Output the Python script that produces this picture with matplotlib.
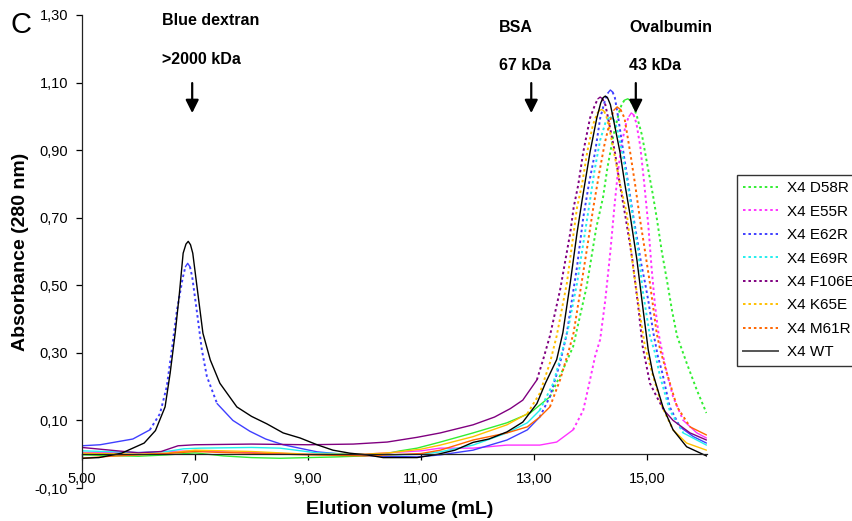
import numpy as np
import matplotlib
matplotlib.use("Agg")
import matplotlib.pyplot as plt
from matplotlib.lines import Line2D

plt.rcParams['font.family'] = ['Liberation Sans', 'DejaVu Sans']

# ---------------- data ----------------
series_names = ["X4 D58R", "X4 E55R", "X4 E62R", "X4 E69R",
                "X4 F106E", "X4 K65E", "X4 M61R", "X4 WT"]
series_colors = ["#33ee33", "#ff33ff", "#3f3fff", "#22eeee",
                 "#800080", "#ffc000", "#ff6600", "#000000"]

d58r_x = [5.0, 5.5, 6.0, 6.5, 7.0, 7.5, 8.0, 8.5, 9.0, 9.5, 10.0, 10.33, 10.63, 10.93,
          11.34, 11.92, 12.52, 12.93, 13.28, 13.51, 13.69, 13.93, 14.1, 14.22, 14.3, 14.4,
          14.5, 14.55, 14.6, 14.66, 14.71, 14.76, 14.82, 14.91, 15.0, 15.1, 15.17, 15.26,
          15.36, 15.44, 15.53, 15.7, 15.88, 16.05]
d58r_y = [-0.002, -0.004, -0.006, -0.002, 0.004, -0.005, -0.01, -0.012, -0.01, -0.008,
          -0.005, 0.0, 0.01, 0.018, 0.036, 0.063, 0.093, 0.122, 0.17, 0.25, 0.318, 0.496,
          0.67, 0.76, 0.85, 0.94, 1.01, 1.035, 1.048, 1.052, 1.045, 1.03, 1.0, 0.944,
          0.86, 0.77, 0.70, 0.60, 0.506, 0.426, 0.35, 0.27, 0.19, 0.122]

e55r_x = [5.0, 6.0, 6.5, 7.0, 8.0, 9.0, 10.0, 11.0, 11.34, 11.92, 12.52, 13.1, 13.4,
          13.69, 13.87, 13.99, 14.08, 14.17, 14.26, 14.35, 14.42, 14.48, 14.55, 14.63,
          14.68, 14.72, 14.76, 14.81, 14.88, 14.95, 15.02, 15.08, 15.14, 15.2, 15.27,
          15.35, 15.46, 15.64, 15.88, 16.05]
e55r_y = [0.005, 0.005, 0.008, 0.01, 0.005, 0.0, 0.0, 0.01, 0.018, 0.018, 0.027, 0.027,
          0.036, 0.072, 0.13, 0.22, 0.29, 0.34, 0.456, 0.60, 0.73, 0.83, 0.92, 0.98, 1.0,
          1.01, 1.005, 0.98, 0.91, 0.80, 0.68, 0.55, 0.44, 0.36, 0.30, 0.24, 0.17, 0.10,
          0.063, 0.048]

e62r_x = [5.0, 5.32, 5.9, 6.2, 6.38, 6.5, 6.59, 6.68, 6.78, 6.83, 6.87, 6.91, 6.95, 7.03,
          7.12, 7.21, 7.39, 7.67, 7.97, 8.25, 8.56, 9.16, 9.74, 10.33, 10.93, 11.34, 11.92,
          12.52, 12.88, 13.1, 13.28, 13.46, 13.58, 13.76, 13.87, 13.97, 14.08, 14.17,
          14.26, 14.31, 14.35, 14.39, 14.43, 14.49, 14.58, 14.67, 14.74, 14.82, 14.9,
          14.96, 15.02, 15.11, 15.19, 15.27, 15.4, 15.58, 15.82, 16.05]
e62r_y = [0.025, 0.028, 0.045, 0.072, 0.12, 0.2, 0.31, 0.426, 0.52, 0.555, 0.565, 0.555,
          0.525, 0.426, 0.31, 0.23, 0.15, 0.10, 0.068, 0.045, 0.028, 0.007, -0.002,
          -0.006, -0.008, -0.002, 0.012, 0.042, 0.072, 0.11, 0.17, 0.27, 0.358, 0.555,
          0.70, 0.80, 0.894, 0.995, 1.05, 1.07, 1.078, 1.072, 1.055, 0.995, 0.894, 0.796,
          0.72, 0.64, 0.56, 0.51, 0.456, 0.36, 0.29, 0.24, 0.14, 0.081, 0.052, 0.033]

e69r_x = [5.0, 6.0, 6.5, 6.8, 7.1, 8.0, 8.5, 9.16, 10.33, 11.0, 11.34, 11.92, 12.52, 12.88,
          13.1, 13.34, 13.49, 13.6, 13.76, 13.9, 13.99, 14.07, 14.17, 14.26, 14.31, 14.36,
          14.41, 14.47, 14.56, 14.66, 14.75, 14.84, 14.93, 15.05, 15.14, 15.23, 15.4,
          15.64, 16.05]
e69r_y = [0.01, 0.005, 0.008, 0.016, 0.018, 0.02, 0.018, 0.004, -0.003, 0.0, 0.007, 0.027,
          0.063, 0.093, 0.13, 0.21, 0.30, 0.37, 0.506, 0.655, 0.752, 0.84, 0.93, 0.98,
          0.994, 0.998, 0.99, 0.964, 0.894, 0.796, 0.70, 0.604, 0.476, 0.35, 0.30, 0.23,
          0.13, 0.063, 0.027]

f106e_x = [5.0, 5.5, 6.0, 6.4, 6.7, 7.0, 8.0, 9.0, 9.8, 10.4, 10.93, 11.34, 11.92, 12.3,
           12.58, 12.8, 13.05, 13.16, 13.28, 13.46, 13.64, 13.7, 13.78, 13.87, 13.99, 14.08,
           14.13, 14.17, 14.21, 14.26, 14.31, 14.43, 14.52, 14.62, 14.74, 14.85, 14.92,
           15.05, 15.17, 15.3, 15.46, 15.76, 16.05]
f106e_y = [0.02, 0.012, 0.004, 0.008, 0.025, 0.028, 0.03, 0.028, 0.03, 0.036, 0.05, 0.063,
           0.087, 0.11, 0.135, 0.16, 0.22, 0.28, 0.35, 0.486, 0.655, 0.73, 0.796, 0.894,
           0.995, 1.035, 1.052, 1.057, 1.052, 1.035, 0.995, 0.894, 0.796, 0.70, 0.575,
           0.427, 0.32, 0.21, 0.17, 0.13, 0.10, 0.063, 0.042]

k65e_x = [5.0, 6.0, 6.5, 7.0, 7.5, 8.0, 9.0, 10.0, 10.5, 11.0, 11.34, 11.92, 12.52, 12.88,
          13.1, 13.28, 13.4, 13.58, 13.7, 13.76, 13.85, 13.94, 14.04, 14.12, 14.16, 14.2,
          14.24, 14.28, 14.35, 14.43, 14.52, 14.64, 14.75, 14.88, 14.96, 15.09, 15.27,
          15.46, 15.7, 16.05]
k65e_y = [0.003, 0.0, 0.003, 0.012, 0.01, 0.008, 0.0, 0.0, 0.005, 0.015, 0.027, 0.052,
          0.087, 0.12, 0.18, 0.27, 0.35, 0.506, 0.655, 0.73, 0.80, 0.894, 0.974, 1.01,
          1.018, 1.02, 1.015, 1.0, 0.95, 0.88, 0.80, 0.713, 0.555, 0.407, 0.32, 0.24, 0.14,
          0.072, 0.033, 0.012]

m61r_x = [5.0, 5.5, 6.0, 6.5, 7.0, 7.5, 8.0, 9.0, 10.0, 11.0, 11.34, 11.92, 12.52, 12.88,
          13.1, 13.28, 13.46, 13.62, 13.7, 13.84, 13.96, 14.05, 14.15, 14.25, 14.35, 14.41,
          14.47, 14.53, 14.6, 14.7, 14.79, 14.87, 14.96, 15.05, 15.17, 15.23, 15.35, 15.53,
          15.76, 16.05]
m61r_y = [-0.012, -0.006, -0.002, 0.002, 0.008, 0.005, 0.003, -0.002, -0.005, 0.002, 0.012,
          0.042, 0.063, 0.081, 0.11, 0.14, 0.22, 0.31, 0.36, 0.506, 0.634, 0.732, 0.83,
          0.92, 0.99, 1.018, 1.028, 1.02, 0.995, 0.894, 0.796, 0.70, 0.604, 0.506, 0.358,
          0.31, 0.24, 0.14, 0.081, 0.057]

wt_x = [5.0, 5.3, 5.7, 6.1, 6.3, 6.47, 6.56, 6.65, 6.72, 6.79, 6.84, 6.88, 6.92, 6.96,
        7.05, 7.14, 7.27, 7.44, 7.74, 8.0, 8.27, 8.56, 8.86, 9.16, 9.44, 9.74, 10.04,
        10.33, 10.93, 11.3, 11.6, 11.92, 12.2, 12.52, 12.8, 13.05, 13.2, 13.4, 13.51,
        13.64, 13.76, 13.85, 13.99, 14.11, 14.18, 14.22, 14.26, 14.3, 14.35, 14.4, 14.52,
        14.61, 14.7, 14.82, 14.93, 15.02, 15.1, 15.28, 15.46, 15.7, 16.05]
wt_y = [-0.012, -0.01, 0.003, 0.033, 0.07, 0.14, 0.24, 0.36, 0.47, 0.595, 0.622, 0.63,
        0.62, 0.595, 0.476, 0.358, 0.279, 0.21, 0.14, 0.112, 0.09, 0.063, 0.048, 0.028,
        0.012, 0.003, -0.002, -0.01, -0.01, 0.0, 0.012, 0.035, 0.045, 0.066, 0.095, 0.15,
        0.21, 0.28, 0.36, 0.507, 0.655, 0.752, 0.894, 0.995, 1.04, 1.055, 1.06, 1.055,
        1.035, 0.995, 0.894, 0.796, 0.707, 0.575, 0.427, 0.309, 0.24, 0.14, 0.072, 0.022,
        -0.005]

series_x = [d58r_x, e55r_x, e62r_x, e69r_x, f106e_x, k65e_x, m61r_x, wt_x]
series_y = [d58r_y, e55r_y, e62r_y, e69r_y, f106e_y, k65e_y, m61r_y, wt_y]
series_dotted = [True, True, True, True, True, True, True, False]

x_ticks = [5, 7, 9, 11, 13, 15]
x_tick_labels = ["5,00", "7,00", "9,00", "11,00", "13,00", "15,00"]
y_ticks = [-0.10, 0.10, 0.30, 0.50, 0.70, 0.90, 1.10, 1.30]
y_tick_labels = ["-0,10", "0,10", "0,30", "0,50", "0,70", "0,90", "1,10", "1,30"]

standards = ["Blue dextran", "BSA", "Ovalbumin"]
standard_sizes = [">2000 kDa", "67 kDa", "43 kDa"]
standard_elution = [6.95, 12.95, 14.8]
standard_label_x = [6.42, 12.38, 14.68]
standard_label_y = [(1.283, 1.168), (1.263, 1.150), (1.263, 1.150)]

# ---------------- figure ----------------
W, H = 852, 521
fig = plt.figure(figsize=(W / 100, H / 100), dpi=100)
ax = fig.add_axes([82 / W, 33 / H, (707 - 82) / W, (488 - 15) / H])
ax.set_xlim(5.0, 16.06)
ax.set_ylim(-0.10, 1.30)

ax.spines['top'].set_visible(False)
ax.spines['right'].set_visible(False)
ax.spines['bottom'].set_position(('data', 0))
for s in ('left', 'bottom'):
    ax.spines[s].set_linewidth(0.9)
    ax.spines[s].set_color('#222222')

ax.set_xticks(x_ticks)
ax.set_xticklabels(x_tick_labels)
ax.set_yticks(y_ticks)
ax.set_yticklabels(y_tick_labels)
ax.tick_params(axis='x', direction='out', length=4, width=0.9, pad=9, labelsize=10.5)
ax.tick_params(axis='y', direction='out', length=4, width=0.9, pad=6, labelsize=10.5)

SOLID_LW = 1.0
DOT_LW = 1.4
DOT_STYLE = (0, (1.3, 1.5))


def draw_series(xv, yv, color, dotted):
    xv = np.asarray(xv, float)
    yv = np.asarray(yv, float)
    if not dotted:
        ax.plot(xv, yv, color=color, lw=SOLID_LW, solid_joinstyle='round')
        return
    disp = ax.transData.transform(np.column_stack([xv, yv]))
    d = np.diff(disp, axis=0)
    steep = np.abs(d[:, 1]) > 1.5 * np.abs(d[:, 0])
    start = 0
    n = len(steep)
    while start < n:
        end = start
        while end + 1 < n and steep[end + 1] == steep[start]:
            end += 1
        xs = xv[start:end + 2]
        ys = yv[start:end + 2]
        if steep[start]:
            ax.plot(xs, ys, color=color, lw=DOT_LW, linestyle=DOT_STYLE,
                    dash_capstyle='butt')
        else:
            ax.plot(xs, ys, color=color, lw=SOLID_LW, solid_capstyle='round',
                    solid_joinstyle='round')
        start = end + 1


for xv, yv, c, dt in zip(series_x, series_y, series_colors, series_dotted):
    draw_series(xv, yv, c, dt)

# standards annotations
for name, size, xe, lx, (ly1, ly2) in zip(standards, standard_sizes, standard_elution,
                                         standard_label_x, standard_label_y):
    ax.text(lx, ly1, name, fontsize=11.5, fontweight='bold', ha='left', va='center')
    ax.text(lx, ly2, size, fontsize=11.5, fontweight='bold', ha='left', va='center')
    ax.annotate('', xy=(xe, 1.0097), xytext=(xe, 1.0985),
                arrowprops=dict(arrowstyle='-|>,head_length=0.6,head_width=0.3',
                                lw=1.6, color='black', shrinkA=0, shrinkB=0,
                                mutation_scale=13),
                annotation_clip=False)

ax.set_xlabel("Elution volume (mL)", fontsize=14, fontweight='bold')
ax.xaxis.set_label_coords((400 - 82) / 625, (488 - 501) / 473)
ax.set_ylabel("Absorbance (280 nm)", fontsize=14, fontweight='bold')
ax.yaxis.set_label_coords((29 - 82) / 625, 0.5)

fig.text(10 / W, 1 - 33 / H, "C", fontsize=21, ha='left', va='baseline')

handles = []
for name, c, dt in zip(series_names, series_colors, series_dotted):
    if dt:
        handles.append(Line2D([], [], color=c, lw=DOT_LW, linestyle=DOT_STYLE))
    else:
        handles.append(Line2D([], [], color='#555555', lw=1.4))
leg = fig.legend(handles, series_names, loc='upper left',
                 bbox_to_anchor=(737 / W, 1 - 175 / H), borderaxespad=0,
                 fontsize=11, frameon=True, fancybox=False, shadow=False,
                 handlelength=2.3, handletextpad=0.6, borderpad=0.4,
                 labelspacing=0.62)
leg.get_frame().set_edgecolor('black')
leg.get_frame().set_linewidth(1.0)

fig.savefig("out.png", dpi=100)
